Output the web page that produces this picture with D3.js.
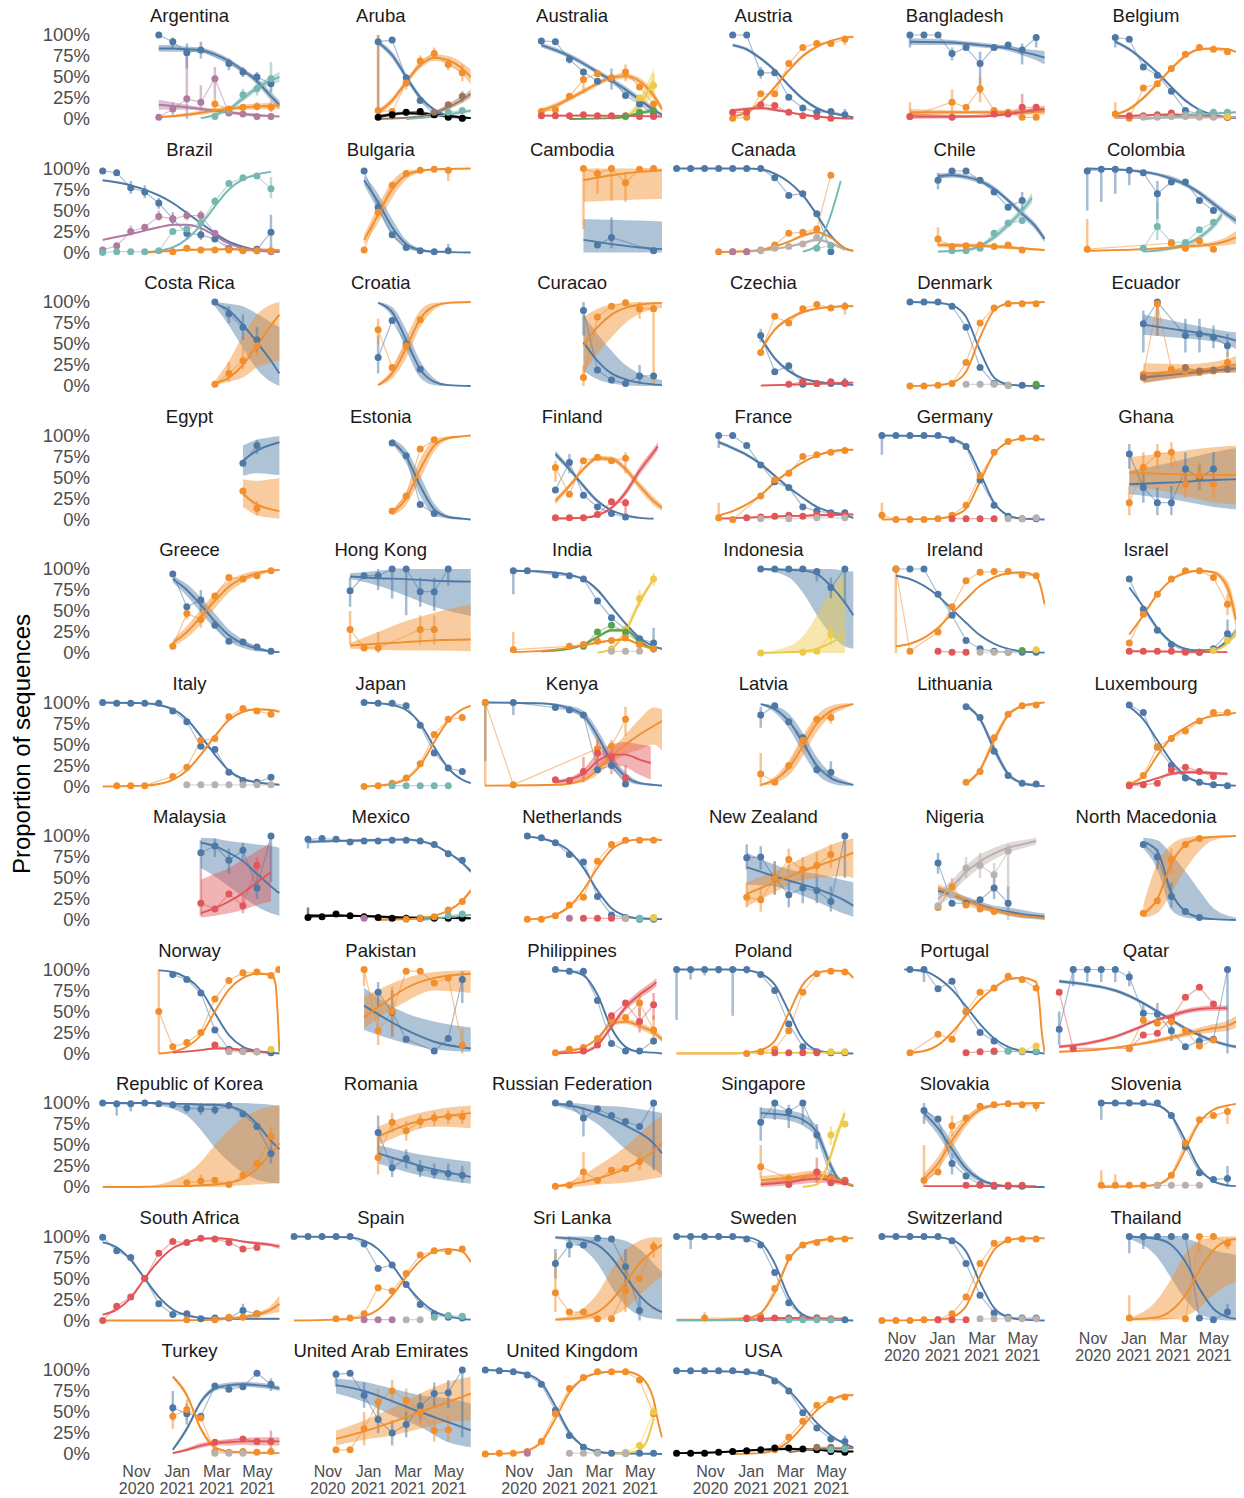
<!DOCTYPE html>
<html><head><meta charset="utf-8">
<script src="https://cdn.jsdelivr.net/npm/d3@7"></script>
<style>body{margin:0;background:#fff} svg{display:block;font-family:"Liberation Sans",Arial,sans-serif}</style>
</head><body><svg id="chart" width="1244" height="1498"></svg>
<script>
// ---------- data ----------
const countries = ["Argentina","Aruba","Australia","Austria","Bangladesh","Belgium",
"Brazil","Bulgaria","Cambodia","Canada","Chile","Colombia",
"Costa Rica","Croatia","Curacao","Czechia","Denmark","Ecuador",
"Egypt","Estonia","Finland","France","Germany","Ghana",
"Greece","Hong Kong","India","Indonesia","Ireland","Israel",
"Italy","Japan","Kenya","Latvia","Lithuania","Luxembourg",
"Malaysia","Mexico","Netherlands","New Zealand","Nigeria","North Macedonia",
"Norway","Pakistan","Philippines","Poland","Portugal","Qatar",
"Republic of Korea","Romania","Russian Federation","Singapore","Slovakia","Slovenia",
"South Africa","Spain","Sri Lanka","Sweden","Switzerland","Thailand",
"Turkey","United Arab Emirates","United Kingdom","USA"];
const variantKeys   = ["O","A","B","G","D","K","P2","E","Br","Gy"];
const variantNames  = ["Other","B.1.1.7","B.1.351","P.1","B.1.617.2","B.1.617.1","P.2","B.1.427/429","B.1.1.318","B.1.525"];
const variantColors = ["#4e79a7","#f28e2b","#e15759","#76b7b2","#edc948","#59a14f","#b07aa1","#000000","#9c755f","#bab0ac"];
// observation bins: 3-week periods starting 2020-09-12 (index k)
const binStart = "2020-09-12", binDays = 21;
const xDomain = ["2020-09-08","2021-06-03"];
const xTickDates = ["2020-11-01","2021-01-01","2021-03-01","2021-05-01"];
const xTickLabels = ["Nov 2020","Jan 2021","Mar 2021","May 2021"];
const yTicks = [0,25,50,75,100];
// series: [variant, points [k, %, lo, hi], fitted [k, %, halfwidth] or [k, %, lo, hi]]
const seriesByCountry = {
"Argentina":[
 ["O",[[4,100],[5,92,85,97],[6,79,60,90],[7,82,72,92],[9,66,58,72],[10,56,50,62],[11,50,44,56],[12,42,32,52]],
      [[4,84,4],[5,84,4],[6,83,3],[7,82,3],[8,77,3],[9,69,3],[10,58,3],[11,45,4],[12,27,5],[12.6,17,5]]],
 ["P2",[[4,2],[5,12,5,20],[6,24,0,82],[7,20,10,40],[8,48,25,62],[9,7],[10,6],[11,3],[12,3]],
      [[4,17,6],[6,14,3],[8,10,2],[10,6,2],[12.6,3,1]]],
 ["G",[[8,3],[9,10],[10,29,22,36],[11,36,28,45],[12,48,30,68]],
      [[7,1,1],[8,5,1],[9,12,2],[10,24,3],[11,37,4],[12,46,5],[12.6,50,6]]],
 ["A",[[8,18,12,25],[9,12],[10,14],[11,15,10,20],[12,14,8,22]],
      [[4,2,1],[6,5,2],[8,10,3],[10,14,3],[12.6,16,4]]]],
"Aruba":[
 ["O",[[6,92,0,100],[7,94],[8,49],[9,22],[10,5],[11,3],[12,1]],
      [[6,91,3],[7,76,4],[8,50,4],[9,26,3],[10,11,2],[11,4,1],[12,1.5,1],[12.6,1,1]]],
 ["A",[[6,10,0,100],[7,9],[8,43,35,52],[9,69,62,76],[10,78,72,85],[11,65,58,72],[12,55,45,65]],
      [[6,8,3],[7,22,4],[8,44,4],[9,64,4],[10,73,4],[11,70,5],[12,60,7],[12.6,50,9]]],
 ["E",[[6,2],[7,5],[8,8,4,12],[9,9,5,13],[10,5],[11,2],[12,1]],[[6,3,2],[8,7,2],[10,5,2],[12.6,1,1]]],
 ["Br",[[10,8],[11,17],[12,27,20,33]],[[6,0,0],[9,3,1],[10,7,2],[11,14,3],[12,23,4],[12.6,30,5]]],
 ["G",[[11,8],[12,10]],[[8,0,0],[10,3,1],[12.6,10,2]]]],
"Australia":[
 ["O",[[4,93],[5,92],[6,71,66,76],[7,56],[8,45],[9,48,35,60],[10,28],[11,18],[12,5]],
      [[4,88,3],[6,75,3],[8,56,3],[10,35,4],[11,23,4],[12,11,3],[12.6,5,2]]],
 ["A",[[4,9],[5,11],[6,27],[7,47,30,60],[8,54],[9,49],[10,56,45,65],[11,38],[12,18]],
      [[4,10,3],[5,16,3],[6,24,3],[7,33,3],[8,42,3],[9,49,3],[10,51,3],[11,45,4],[12,28,5],[12.6,12,4]]],
 ["D",[[11,25],[12,40,25,55]],[[9,0,0],[10,3,2],[11,17,8],[12,45,15]]],
 ["B",[[4,4],[5,4],[6,4],[7,5],[8,4],[9,4],[10,4],[11,3],[12,3]],[[4,4,1],[8,4,1],[12.6,3,1]]],
 ["K",[[10,3],[11,8],[12,10]],[[6,0,0],[9,1,1],[10,3,1],[11,7,2],[12,10,3]]]],
"Austria":[
 ["O",[[4,100],[5,100],[6,55,48,62],[7,55],[8,26],[9,13],[10,8],[11,9],[12,5,0,12]],
      [[4,88,2],[5,83,2],[6,72,2],[7,58,2],[8,40,2],[9,24,2],[10,13,2],[11,7,1],[12,4,1],[12.6,2,1]]],
 ["A",[[4,1],[5,2],[6,30],[7,30],[8,66],[9,85],[10,90],[11,90],[12,95,88,100]],
      [[4,3,1],[5,8,2],[6,20,2],[7,38,2],[8,58,2],[9,75,2],[10,86,2],[11,93,1],[12,97,1],[12.6,98,1]]],
 ["B",[[4,8],[5,8],[6,17],[7,16],[8,8],[9,4],[10,3],[11,1]],
      [[4,10,2],[5,12,2],[6,13,2],[7,11,2],[8,8,1],[9,5,1],[10,3,1],[11,1.5,1],[12.6,0.5,0]]]],
"Bangladesh":[
 ["O",[[3,100,85,100],[4,100],[5,100],[6,78,70,85],[7,85],[8,66,30,80],[9,85],[10,88],[11,82,65,90],[12,97,85,100]],
      [[3,92,4],[6,91,3],[8,88,3],[10,84,3],[11,80,4],[12,76,6],[12.6,73,8]]],
 ["A",[[3,3,0,20],[6,20,5,35],[7,14],[8,36,20,50],[9,10],[10,8],[11,2],[12,2]],[[3,8,4],[8,8,2],[12.6,9,4]]],
 ["B",[[3,3],[6,2],[9,6],[10,6],[11,14,5,30],[12,14]],[[3,3,4],[8,3,1],[10,6,2],[12.6,12,4]]]],
"Belgium":[
 ["O",[[4,97,85,100],[5,95],[6,62],[7,52],[8,33],[9,10],[10,6],[11,3],[12,2]],
      [[4,92,2],[5,83,2],[6,70,2],[7,55,2],[8,38,2],[9,22,2],[10,11,1],[11,5,1],[12,2,1],[12.6,1,1]]],
 ["A",[[4,6,0,20],[5,1],[6,37],[7,42],[8,60],[9,77],[10,85],[11,83],[12,80]],
      [[4,5,1],[5,12,2],[6,25,2],[7,42,2],[8,60,2],[9,75,2],[10,83,1],[11,84,1],[12,83,1],[12.6,80,1]]],
 ["B",[[5,4],[6,4],[7,5],[8,7],[9,5],[10,4],[11,3],[12,2]],[[4,3,1],[8,5,1],[12.6,2,1]]],
 ["G",[[9,5],[10,8],[11,8],[12,8]],[[6,0,0],[9,4,1],[12.6,8,1]]],
 ["Gy",[[6,2],[7,2],[8,3],[9,3],[10,2],[11,2]],[[4,1,0],[12.6,2,0]]],
 ["D",[[12,3]],[]]],
"Brazil":[
 ["O",[[0,97],[1,95],[2,77,70,85],[3,72,65,80],[4,59,52,65],[5,40,32,48],[6,23,15,30],[7,21,15,28],[8,16],[9,5],[10,3],[11,4],[12,24,5,45]],
      [[0,86,1],[2,80,1],[4,68,1],[5,59,1],[6,47,1],[7,35,1],[8,23,1],[9,13,1],[10,7,1],[11,3,1],[12.6,1,1]]],
 ["P2",[[0,3],[1,8],[2,25,20,32],[3,30],[4,43,38,50],[5,40,35,45],[6,44,38,50],[7,44,38,50],[8,23],[9,5],[10,3],[11,2],[12,1]],
      [[0,15,1],[2,22,1],[4,30,1],[5,33,1],[6,33,1],[7,29,1],[8,20,1],[9,11,1],[10,5,1],[11,2,1],[12.6,1,1]]],
 ["G",[[0,0],[1,1],[2,1],[3,1],[4,2],[5,25],[6,28],[7,35,28,42],[8,61,55,66],[9,82,78,86],[10,89],[11,91],[12,76,65,90]],
      [[3,0,0],[4,2,1],[5,6,1],[6,16,1],[7,33,1],[8,55,1],[9,75,1],[10,87,1],[11,93,1],[12,96,1]]],
 ["A",[[5,1],[6,5],[7,3],[8,3],[9,3],[10,2],[11,2],[12,2]],[[3,0,0],[6,3,1],[9,4,1],[12.6,3,1]]]],
"Bulgaria":[
 ["O",[[5,97],[6,54,45,62],[7,21],[8,6],[9,2],[10,1],[11,2,0,10]],
      [[5,86,6],[6,60,10],[7,30,10],[8,10,5],[9,3,2],[10,1,1],[12.6,0,0]]],
 ["A",[[5,3],[6,48],[7,80],[8,94],[9,98],[10,99],[11,98,85,100]],
      [[5,15,6],[6,45,10],[7,75,10],[8,92,5],[9,97,2],[10,99,1],[12.6,100,0]]]],
"Cambodia":[
 ["A",[[7,100,28,100],[8,94,70,100],[9,100,62,100],[10,83,60,95],[11,99],[12,100]],
      [[7,86,60,100],[9,92,62,100],[11,96,63,100],[12.6,98,64,100]]],
 ["O",[[8,9],[9,18,5,42],[12,2]],[[7,15,0,40],[9,10,0,39],[11,6,0,38],[12.6,4,0,37]]]],
"Canada":[
 ["O",[[0,100],[1,100],[2,100],[3,100],[4,100],[5,100],[6,100],[7,89],[8,68],[9,70],[10,46],[11,1]],
      [[0,100,0],[5,100,0],[6,99,1],[7,94,1],[8,84,1],[9,68,1],[10,45,1],[11,20,1],[12,5,1],[12.6,2,0]]],
 ["A",[[3,1],[4,1],[5,1],[6,3],[7,9],[8,23],[9,24],[10,28],[11,92]],
      [[3,0.5,0],[6,3,1],[7,7,1],[8,13,1],[9,20,2],[10,24,2],[11,18,2],[12,5,1],[12.6,2,0]]],
 ["G",[[10,5],[11,8]],[[9,1,0],[10,8,1],[11,45,2],[11.7,85,2]]],
 ["Gy",[[6,2],[7,5],[8,7],[9,10],[10,18]],[[5,1,0],[7,4,1],[8,7,1],[9,11,2],[10,15,2],[11,11,2],[12,3,1]]],
 ["P2",[[4,1],[5,1]],[]]],
"Chile":[
 ["O",[[5,86,75,95],[6,97],[7,97],[8,86],[9,72],[10,54],[11,62,50,72]],
      [[5,91,3],[6,92,3],[7,90,3],[8,85,3],[9,76,3],[10,62,3],[11,46,4],[12,30,4],[12.6,16,4]]],
 ["G",[[6,2],[7,2],[8,5],[9,23],[10,35],[11,38]],
      [[5,1,1],[7,3,1],[8,8,2],[9,18,3],[10,33,4],[11,50,5],[11.7,65,6]]],
 ["A",[[5,16,8,30],[6,7],[7,8],[8,9],[9,7],[10,9],[11,3]],[[5,9,3],[8,8,2],[10,6,2],[12.6,3,1]]]],
"Colombia":[
 ["O",[[2,97,50,100],[3,99,60,100],[4,99,70,100],[5,98,80,100],[6,95],[7,70,40,85],[8,84],[9,84],[10,62],[11,50]],
      [[2,100,1],[4,99,1],[6,96,2],[7,93,2],[8,88,3],[9,81,3],[10,71,3],[11,58,4],[12,45,4],[12.6,38,5]]],
 ["G",[[6,5],[7,31,15,60],[8,12],[9,12],[10,27],[11,36]],[[6,1,1],[8,5,2],[10,18,3],[11,32,4],[11.6,45,5]]],
 ["A",[[2,4,0,40],[8,11],[9,5],[10,14],[11,4]],[[2,2,1],[6,4,1],[9,7,2],[11,10,3],[12,14,5],[12.6,18,8]]]],
"Costa Rica":[
 ["O",[[8,100],[9,86,75,95],[10,70,55,85],[11,55,40,70]],
      [[8,98,95,100],[9,90,72,98],[10,73,45,95],[11,52,20,86],[12,30,5,76],[12.6,15,0,70]]],
 ["A",[[8,2],[9,15,5,28],[10,30,20,45],[11,48,35,60]],
      [[8,3,1,6],[9,10,5,30],[10,25,10,60],[11,48,22,85],[12,72,28,97],[12.6,85,30,100]]]],
"Croatia":[
 ["O",[[6,34,15,60],[7,78],[8,50],[9,20]],[[6,99,1],[7,88,6],[8,55,12],[9,20,10],[10,5,4],[11,1,1],[12.6,0,0]]],
 ["A",[[6,67,50,80],[7,22],[8,48],[9,79]],[[6,1,1],[7,15,6],[8,45,12],[9,80,10],[10,95,4],[11,99,1],[12.6,100,0]]]],
"Curacao":[
 ["O",[[7,90,60,100],[8,19],[9,7],[10,3],[11,12,2,25],[12,12]],
      [[7,52,18,85],[8,30,8,62],[9,15,3,42],[10,8,1,25],[11,4,0,15],[12.6,1,0,7]]],
 ["A",[[7,10,0,25],[8,82],[9,95],[10,99],[11,92,80,100],[12,92,0,100]],
      [[7,48,15,82],[8,70,38,92],[9,85,58,97],[10,93,75,99],[11,97,86,100],[12.6,99,93,100]]]],
"Czechia":[
 ["O",[[6,60,52,68],[7,17],[8,24],[9,2],[10,3],[11,3],[12,4,0,10]],
      [[6,58,3],[7,33,2],[8,18,2],[9,9,1],[10,5,1],[11,3,1],[12,2,1],[12.6,1,0]]],
 ["A",[[6,40],[7,83],[8,75],[9,92],[10,97],[11,93],[12,95,85,100]],
      [[6,42,3],[7,67,2],[8,80,2],[9,88,2],[10,92,1],[11,94,1],[12,95,1],[12.6,95,1]]],
 ["B",[[8,2],[9,5],[10,3],[11,5],[12,3]],[[6,0.5,0],[9,2,1],[12.6,4,1]]]],
"Denmark":[
 ["O",[[3,100],[4,100],[5,100],[6,95],[7,70],[8,22],[9,3],[10,1],[11,1],[12,0]],
      [[3,100,0],[5,99,1],[6,96,1],[7,82,1],[8,42,1],[9,10,1],[10,2,1],[11,0.5,0],[12.6,0,0]]],
 ["A",[[3,0],[4,0],[5,1],[6,3],[7,28],[8,75],[9,93],[10,98],[11,98],[12,98]],
      [[3,0,0],[5,1,0],[6,4,1],[7,17,1],[8,58,1],[9,90,1],[10,98,1],[11,99,0],[12.6,100,0]]],
 ["Gy",[[7,2],[8,2],[9,2],[10,1]],[]],
 ["K",[[12,2]],[]]],
"Ecuador":[
 ["O",[[6,74,40,90],[7,100,60,100],[9,60,40,80],[10,62,40,80],[11,58,45,72],[12,48,35,62]],
      [[6,73,12],[8,68,10],[10,63,8],[12,57,8],[12.6,54,10]]],
 ["A",[[6,14],[7,98,60,100],[8,20],[9,18],[10,16],[11,18],[12,28,20,40]],[[6,15,12],[9,18,8],[12,24,8],[12.6,26,10]]],
 ["Br",[[6,10],[9,22],[10,18],[11,19],[12,20]],[[6,10,6],[9,15,4],[12,20,4],[12.6,21,5]]]],
"Egypt":[
 ["O",[[10,67],[11,88,78,95]],[[10,70,52,88],[11,82,55,95],[12,89,54,98],[12.6,92,53,99]]],
 ["A",[[10,34],[11,13,5,22]],[[10,30,15,48],[11,18,5,46],[12,12,2,48],[12.6,10,1,49]]]],
"Estonia":[
 ["O",[[7,91],[8,76],[9,18],[10,7]],[[7,93,3],[8,75,8],[9,40,12],[10,12,7],[11,3,2],[12,1,1],[12.6,0,0]]],
 ["A",[[7,10],[8,28],[9,84],[10,95]],[[7,8,3],[8,25,8],[9,60,12],[10,88,7],[11,97,2],[12,99,1],[12.6,100,0]]]],
"Finland":[
 ["O",[[5,35],[6,68,55,78],[7,29],[8,15],[9,7],[10,3]],
      [[5,78,4],[6,60,3],[7,40,3],[8,22,2],[9,11,1],[10,5,1],[11,2,1],[12,1,0]]],
 ["A",[[5,62,45,70],[6,30],[7,70],[8,74],[9,70],[10,73,55,80]],
      [[5,22,4],[6,40,3],[7,60,3],[8,73,3],[9,72,3],[10,60,4],[11,40,5],[12,22,5],[12.6,14,4]]],
 ["B",[[5,2],[6,2],[7,2],[8,6],[9,21],[10,20,0,25]],
      [[5,1,0],[7,2,1],[8,5,1],[9,14,2],[10,32,4],[11,58,5],[12,80,5],[12.3,87,5]]]],
"France":[
 ["O",[[3,100,85,100],[4,100],[5,88],[6,65],[7,45],[8,38],[9,15],[10,10],[11,8],[12,8]],
      [[3,92,2],[4,85,2],[5,77,2],[6,66,2],[7,52,2],[8,38,2],[9,26,1],[10,15,1],[11,9,1],[12,5,1],[12.6,2,1]]],
 ["A",[[3,2,0,20],[4,0],[6,28],[7,47],[8,55],[9,75],[10,77],[11,80],[12,82]],
      [[3,5,1],[4,10,1],[5,18,1],[6,29,1],[7,44,1],[8,57,1],[9,68,1],[10,76,1],[11,81,1],[12,83,1],[12.6,83,1]]],
 ["B",[[5,2],[6,3],[7,4],[8,5],[9,4],[10,6],[11,6],[12,5]],[[3,1,0],[8,4,1],[12.6,6,1]]],
 ["Gy",[[6,1],[8,1],[10,2],[12,2]],[]]],
"Germany":[
 ["O",[[1,100,77,100],[2,100],[3,100],[4,100],[5,100],[6,95],[7,87],[8,47],[9,17],[10,4],[11,1],[12,1]],
      [[1,100,0],[5,99,1],[6,96,1],[7,87,1],[8,55,1],[9,20,1],[10,5,1],[11,1,0],[12.6,0,0]]],
 ["A",[[1,5,0,20],[2,0],[3,0],[4,0],[5,1],[6,5],[7,17],[8,52],[9,80],[10,93],[11,97],[12,97]],
      [[1,0,0],[5,1,0],[6,4,1],[7,13,1],[8,45,1],[9,78,1],[10,92,1],[11,96,1],[12,96,1],[12.6,95,1]]],
 ["B",[[6,1],[7,1],[8,1],[9,1]],[]],
 ["Gy",[[10,1],[11,1],[12,2]],[]]],
"Ghana":[
 ["O",[[5,78,60,90],[6,38,20,55],[7,20,5,38],[8,20,5,40],[9,60,40,80],[10,50,35,65],[11,60,40,80]],
      [[5,42,30,58],[8,44,24,68],[11,47,15,80],[12.6,48,12,85]]],
 ["A",[[5,20,5,40],[6,62,45,80],[7,78,60,90],[8,80,62,92],[9,42,25,60],[10,52,35,68],[11,42,25,60]],
      [[5,56,40,74],[8,54,32,80],[11,53,20,86],[12.6,53,18,88]]]],
"Greece":[
 ["O",[[5,94],[6,55],[7,63,50,75],[8,33],[9,14],[10,13],[11,7],[12,2]],
      [[5,88,4],[6,75,7],[7,57,9],[8,38,9],[9,21,7],[10,11,5],[11,5,3],[12,2,1],[12.6,1,1]]],
 ["A",[[5,8],[6,47,40,55],[7,40,30,50],[8,68],[9,90],[10,88],[11,92],[12,98]],
      [[5,12,4],[6,25,7],[7,43,9],[8,62,9],[9,79,7],[10,89,5],[11,95,3],[12,98,1],[12.6,99,1]]]],
"Hong Kong":[
 ["O",[[4,74,55,90],[5,92],[6,92,75,100],[7,100,65,100],[8,100,45,100],[9,73,55,90],[10,73,50,90],[11,100,80,100]],
      [[4,91,88,95],[6,89,80,98],[8,88,68,100],[10,86,55,100],[12.6,85,44,100]]],
 ["A",[[4,28,10,50],[5,6],[6,6,0,25],[9,28,10,45],[10,28,10,45]],
      [[4,9,5,12],[6,11,4,25],[8,13,3,38],[10,15,3,48],[12.6,16,2,58]]]],
"India":[
 ["O",[[2,98,70,100],[3,98],[5,93],[6,92],[7,88],[8,62],[9,42],[10,28],[11,17],[12,12,0,30]],
      [[2,98,1],[4,97,1],[6,93,1],[7,88,1],[8,75,2],[9,55,2],[10,35,2],[11,18,2],[12,8,1],[12.6,5,1]]],
 ["D",[[9,5],[10,28],[11,65,55,75],[12,88,80,95]],[[8,0.5,0],[9,5,1],[10,25,2],[11,60,3],[12,88,3]]],
 ["K",[[7,8],[8,25],[9,33],[10,25],[11,12],[12,5]],
      [[4,2,1],[6,5,1],[7,10,1],[8,19,2],[9,27,2],[10,27,2],[11,14,2],[12,4,1]]],
 ["A",[[2,4,0,25],[6,8],[7,10],[8,14],[9,15],[10,18],[11,10],[12,5]],
      [[2,1,0],[5,4,1],[8,12,1],[9,15,1],[10,16,1],[11,10,1],[12,4,1]]],
 ["Gy",[[9,2],[10,2],[11,2]],[]]],
"Indonesia":[
 ["O",[[6,100],[7,100],[8,100],[9,100],[10,97,85,100],[11,78,65,90],[12,100,60,100]],
      [[6,100,99,100],[8,99,90,100],[9,98,72,100],[10,94,45,100],[11,80,22,100],[12,60,8,98],[12.6,45,5,97]]],
 ["D",[[6,0],[9,1],[10,2],[11,22,10,35]],
      [[6,0,0,1],[8,1,0,8],[9,2,0,20],[10,5,0,45],[11,12,0,75],[12,22,0,95]]]],
"Ireland":[
 ["O",[[2,100],[3,100],[4,100],[5,70],[6,45],[7,15],[8,5],[9,2],[10,1],[11,1],[12,1]],
      [[2,92,1],[3,88,1],[4,80,1],[5,68,1],[6,52,1],[7,36,1],[8,21,1],[9,11,1],[10,5,1],[11,2,0],[12.6,0.5,0]]],
 ["A",[[2,100,0,100],[3,2],[5,25],[6,55],[7,86],[8,96],[9,97],[10,97],[11,93],[12,92]],
      [[2,8,1],[3,11,1],[4,18,1],[5,30,1],[6,47,1],[7,64,1],[8,80,1],[9,90,1],[10,95,1],[11,96,1],[12,91,2],[12.3,80,3],[12.6,58,4]]],
 ["B",[[5,2],[6,1],[7,1]],[]],
 ["Gy",[[8,1],[9,1],[10,1]],[]],
 ["K",[[11,3]],[]],
 ["D",[[12,4]],[]]],
"Israel":[
 ["O",[[5,88],[6,52],[7,27],[8,10],[9,2],[10,1],[11,5],[12,23,15,40]],
      [[5,78,1],[6,55,1],[7,30,1],[8,13,1],[9,5,1],[10,3,1],[11,4,1],[12,15,3],[12.6,25,5]]],
 ["A",[[5,12],[6,46],[7,70],[8,88],[9,98],[10,98],[11,90],[12,58,45,70]],
      [[5,22,1],[6,45,1],[7,70,1],[8,87,1],[9,95,1],[10,98,1],[11,96,2],[12,78,8],[12.6,40,12]]],
 ["D",[[11,3],[12,15]],[[9,0,0],[11,3,1],[12,12,3],[12.6,25,5]]],
 ["B",[[5,2],[6,2],[7,2],[8,2],[9,1],[10,1]],[[5,2,0],[12,1,0]]]],
"Italy":[
 ["O",[[0,100],[1,99],[2,99],[3,99],[4,99],[5,90],[6,77],[7,48],[8,44],[9,17],[10,7],[11,5],[12,11]],
      [[0,100,0],[3,99,1],[4,97,1],[5,92,1],[6,80,1],[7,60,2],[8,38,2],[9,19,1],[10,9,1],[11,5,1],[12,3,1],[12.6,2,1]]],
 ["A",[[1,1],[2,1],[3,1],[5,12],[6,23],[7,55],[8,57],[9,83],[10,93],[11,90],[12,86]],
      [[0,0,0],[3,1,0],[4,3,1],[5,8,1],[6,19,1],[7,38,2],[8,60,2],[9,79,1],[10,89,1],[11,92,1],[12,91,1],[12.6,89,1]]],
 ["Gy",[[6,2],[7,2],[8,2],[9,2],[10,2],[11,2],[12,2]],[]]],
"Japan":[
 ["O",[[5,100],[6,99],[7,99],[8,96],[9,73],[10,40],[11,22],[12,18]],
      [[5,100,0],[6,99,0],[7,97,1],[8,91,1],[9,75,1],[10,47,1],[11,22,1],[12,8,1],[12.6,4,1]]],
 ["A",[[5,0],[6,1],[7,4],[8,10],[9,27],[10,62],[11,80],[12,82]],
      [[5,0,0],[6,1,0],[7,3,1],[8,9,1],[9,25,1],[10,53,1],[11,78,1],[12,92,1],[12.6,96,1]]],
 ["G",[[7,1],[8,1],[9,1],[10,1],[11,1]],[]]],
"Kenya":[
 ["O",[[0,100,30,100],[2,100,85,100],[5,94],[6,91],[7,85],[8,20],[9,25],[10,3]],
      [[0,100,0],[4,99,1],[6,93,3],[7,85,5],[8,60,8],[9,30,8],[10,12,5],[11,4,2],[12,2,1],[12.6,1,1]]],
 ["A",[[0,100,0,100],[2,2],[8,45,30,60],[9,48],[10,80,60,95]],
      [[0,1,0],[5,2,1],[7,8,3],[8,20,6],[9,36,8],[10,50,12],[11,62,18],[12,72,22],[12.6,78,43,92]]],
 ["B",[[5,8],[6,7],[7,18,5,35],[8,40,25,55],[9,35,15,55],[10,10,0,25]],
      [[5,5,2],[7,15,5],[8,30,8],[9,38,12],[10,38,15],[11,32,18],[11.8,28,20]]]],
"Latvia":[
 ["O",[[6,85,70,95],[7,96],[8,77],[9,58],[10,20],[11,17,10,30]],
      [[6,98,1],[7,92,4],[8,78,9],[9,52,12],[10,25,10],[11,10,6],[12,4,3],[12.6,2,1]]],
 ["A",[[6,15,0,40],[7,5],[8,25],[9,55],[10,80],[11,82,75,90]],
      [[6,2,1],[7,8,4],[8,22,9],[9,48,12],[10,75,10],[11,90,6],[12,96,3],[12.6,98,1]]]],
"Lithuania":[
 ["O",[[7,95],[8,82],[9,42],[10,13],[11,4],[12,3]],[[7,97,1],[8,80,3],[9,45,5],[10,15,3],[11,4,1],[12,1,1],[12.6,0.5,0]]],
 ["A",[[7,5],[8,18],[9,58],[10,86],[11,96],[12,97]],[[7,3,1],[8,20,3],[9,55,5],[10,85,3],[11,96,1],[12,99,1],[12.6,100,0]]]],
"Luxembourg":[
 ["O",[[5,97],[6,88],[7,47],[8,25],[9,10],[10,5],[11,2],[12,1]],
      [[5,95,1],[6,80,1],[7,55,1],[8,30,1],[9,13,1],[10,5,1],[11,2,1],[12.6,1,0]]],
 ["A",[[5,2],[6,13],[7,47],[8,57],[9,66],[10,78],[11,88],[12,88]],
      [[5,3,1],[6,12,1],[7,37,1],[8,58,1],[9,70,1],[10,79,1],[11,84,1],[12,86,1],[12.6,88,1]]],
 ["B",[[5,1],[6,2],[7,4],[8,20],[9,23],[10,18],[11,12]],
      [[5,2,1],[6,5,1],[7,10,1],[8,15,2],[9,17,2],[10,17,2],[11,16,2],[12,15,2]]]],
"Malaysia":[
 ["O",[[7,80,60,95],[8,88,75,97],[9,71,55,85],[10,83,70,92],[11,38,25,50],[12,100,45,100]],
      [[7,92,62,98],[8,88,52,97],[9,80,40,94],[10,70,28,92],[11,55,16,90],[12,40,8,88],[12.6,32,5,86]]],
 ["B",[[7,20,5,60],[8,13],[9,31],[10,17,8,30],[11,65,50,75]],
      [[7,8,3,48],[8,14,5,55],[9,22,8,62],[10,32,12,72],[11,45,18,82],[12,57,22,92]]]],
"Mexico":[
 ["O",[[1,96,85,100],[2,97],[3,96],[4,93],[5,94],[6,94],[7,95],[8,95],[9,94],[10,90],[11,79],[12,71]],
      [[1,93,2],[5,95,1],[8,96,1],[9,94,1],[10,89,1],[11,80,1],[12,68,2],[12.6,58,3]]],
 ["E",[[1,3,0,15],[2,4],[3,7],[4,5],[5,4],[6,3],[7,2],[8,2],[9,2],[10,2],[11,2],[12,2]],[[1,5,2],[4,5,1],[8,3,1],[12.6,2,1]]],
 ["A",[[8,1],[9,2],[10,4],[11,12],[12,22]],[[6,0,0],[8,1,0],[9,2,1],[10,5,1],[11,11,1],[12,23,2],[12.6,35,3]]],
 ["G",[[11,5],[12,7]],[[9,0,0],[12.6,6,1]]],
 ["P2",[[5,2]],[]]],
"Netherlands":[
 ["O",[[3,100],[4,98],[5,92],[6,78],[7,69],[8,28],[9,6],[10,3],[11,1],[12,1]],
      [[3,99,0],[4,97,1],[5,92,1],[6,82,1],[7,62,1],[8,35,1],[9,14,1],[10,5,1],[11,2,0],[12.6,1,0]]],
 ["A",[[3,1],[4,1],[5,5],[6,18],[7,27],[8,70],[9,90],[10,95],[11,95],[12,95]],
      [[3,1,0],[4,2,0],[5,6,1],[6,16,1],[7,36,1],[8,62,1],[9,84,1],[10,93,1],[11,96,1],[12,96,1],[12.6,95,1]]],
 ["B",[[7,2],[8,2],[9,2],[10,2]],[]],
 ["P2",[[6,2]],[]],
 ["Gy",[[10,2],[11,2]],[]],
 ["G",[[11,2],[12,2]],[]],
 ["D",[[12,3]],[]]],
"New Zealand":[
 ["O",[[5,74,60,90],[6,75,60,88],[7,50,30,70],[8,30,15,45],[9,38,20,55],[10,35,20,52],[11,22,10,40],[12,100,50,100]],
      [[5,63,42,80],[7,52,40,66],[8,47,35,60],[10,37,22,55],[12,23,7,47],[12.6,17,4,45]]],
 ["A",[[5,27,15,45],[6,24,10,40],[7,50,30,70],[8,72,55,85],[9,60,45,75],[10,65,50,80],[11,78,62,90]],
      [[5,31,16,45],[7,45,33,58],[8,52,42,66],[10,64,50,82],[12,76,52,95],[12.6,80,50,97]]]],
"Nigeria":[
 ["O",[[5,68,55,80],[6,20],[7,20],[8,24],[9,38,25,50],[10,20,5,40]],
      [[5,35,5],[6,30,4],[7,24,4],[8,18,4],[9,13,4],[10,10,5],[11,7,5],[12,5,4],[12.6,4,4]]],
 ["A",[[5,15],[6,40,30,50],[7,18],[8,13],[9,10]],
      [[5,38,5],[6,31,4],[7,24,3],[8,17,3],[9,12,3],[10,8,2],[11,5,2],[12,3,1],[12.6,2,1]]],
 ["Gy",[[5,17],[6,30],[7,62,50,75],[8,65,50,80],[9,54,40,68],[10,82,0,90]],
      [[5,25,8],[6,40,8],[7,57,8],[8,70,8],[9,79,7],[10,86,6],[11,90,5],[12,94,4]]]],
"North Macedonia":[
 ["O",[[6,90],[7,75,60,85],[8,28,15,45],[9,10],[10,3]],
      [[6,93,85,98],[7,82,60,95],[8,33,12,78],[9,10,3,58],[10,3,1,35],[11,1,0,14],[12.6,0,0,3]]],
 ["A",[[6,8],[7,23],[8,72,55,85],[9,90],[10,97]],
      [[6,7,3,18],[7,25,8,68],[8,67,32,90],[9,90,60,98],[10,97,82,100],[11,99,95,100],[12.6,100,99,100]]]],
"Norway":[
 ["O",[[5,94],[6,88],[7,72],[8,28],[9,5],[10,3],[11,2],[12,1]],
      [[4,99,0],[5,97,1],[6,90,1],[7,75,1],[8,48,1],[9,22,1],[10,8,1],[11,3,1],[12,1,0],[12.6,0,0]]],
 ["A",[[4,50,0,100],[5,8],[6,13],[7,25],[8,65],[9,87],[10,96],[11,97],[12,93],[12.55,100]],
      [[4,0,0],[5,2,1],[6,8,1],[7,22,1],[8,50,1],[9,76,1],[10,90,1],[11,95,1],[12,94,2],[12.3,85,4],[12.5,40,8],[12.6,2,2]]],
 ["B",[[8,10],[9,4],[10,3],[11,2]],[[5,1,0],[7,4,1],[8,6,1],[9,6,1],[10,4,1],[11,2,0],[12,1,0]]],
 ["Gy",[[9,2],[10,2],[11,2]],[]],
 ["D",[[12,5]],[]]],
"Pakistan":[
 ["O",[[6,73,55,85],[7,49,20,75],[8,17],[10,3],[11,18],[12,88,60,98]],
      [[5,57,28,78],[8,28,12,48],[10,14,5,38],[12.6,6,2,31]]],
 ["A",[[5,100,80,100],[6,27,10,50],[7,50,20,80],[8,98],[9,98],[10,84],[11,90],[12,10,0,30]],
      [[5,43,30,68],[6,55,42,76],[8,78,62,90],[10,90,75,97],[12.6,95,72,99]]]],
"Philippines":[
 ["O",[[5,100],[6,98],[7,98],[8,63],[9,12],[10,3],[11,3],[12,15]],
      [[5,99,0],[6,98,1],[7,93,1],[8,70,2],[9,30,2],[10,8,1],[11,2,1],[12,1,0],[12.6,0,0]]],
 ["A",[[5,1],[6,5],[7,7],[8,18],[9,40],[10,43],[11,60,45,72],[12,28,10,45]],
      [[5,1,0],[6,3,1],[7,7,1],[8,18,2],[9,35,2],[10,38,3],[11,33,4],[12,25,4],[12.6,17,4]]],
 ["B",[[7,3],[8,10],[9,45],[10,60],[11,38,25,55],[12,58,40,72]],
      [[5,0,0],[7,2,1],[8,10,2],[9,32,3],[10,55,4],[11,70,5],[12,82,5],[12.2,85,5]]]],
"Poland":[
 ["O",[[0,100,40,100],[1,100,88,100],[2,100,93,100],[3,100,95,100],[4,100,45,100],[5,100,95,100],[6,94],[7,75],[8,35],[9,8],[10,2],[11,1],[12,1]],
      [[0,100,0],[4,100,0],[5,99,1],[6,95,1],[7,82,1],[8,50,1],[9,17,1],[10,4,1],[11,1,0],[12.6,0,0]]],
 ["A",[[5,0],[6,2],[7,5],[8,27],[9,73],[10,95],[11,98],[12,97]],
      [[0,0,0],[4,0,0],[5,1,0],[6,4,1],[7,15,1],[8,48,1],[9,82,1],[10,96,1],[11,99,0],[12,98,1],[12.6,90,2]]],
 ["B",[[7,1],[8,1],[9,1],[10,1]],[]],
 ["D",[[11,2],[12,2]],[[0,0.5,0],[12,1,0]]]],
"Portugal":[
 ["O",[[3,100],[4,100,85,100],[5,77],[6,86],[7,50],[8,25],[9,15],[10,3],[11,2],[12,2]],
      [[2.6,100,0],[4,98,1],[5,90,1],[6,76,1],[7,56,1],[8,35,1],[9,18,1],[10,8,1],[11,3,1],[12,1,0],[12.6,0,0]]],
 ["A",[[3,1],[5,23],[6,17],[7,50],[8,73],[9,78],[10,92],[11,88],[12,78]],
      [[3,1,0],[4,3,1],[5,10,1],[6,25,1],[7,45,1],[8,64,1],[9,78,1],[10,88,1],[11,90,1],[12,85,2],[12.2,65,3],[12.4,25,3],[12.6,2,1]]],
 ["G",[[9,2],[10,3],[11,3],[12,3]],[]],
 ["B",[[7,1],[8,2],[9,3]],[]],
 ["D",[[11,3],[12,9]],[]]],
"Qatar":[
 ["O",[[0,29,10,50],[1,100,80,100],[2,100,85,100],[3,100,85,100],[4,100,85,100],[5,91,80,98],[6,48,35,60],[7,47,35,60],[8,27,15,40],[9,8],[10,15,5,25],[11,17],[12,100,0,100]],
      [[0,86,2],[2,82,2],[4,75,2],[6,60,2],[7,50,2],[8,40,2],[9,30,2],[10,22,2],[11,15,2],[12,10,2],[12.6,8,2]]],
 ["B",[[0,73],[1,6],[5,6],[6,22],[7,24],[8,42],[9,67],[10,79],[11,59]],
      [[0,8,2],[2,12,2],[4,20,2],[6,33,2],[7,40,2],[8,45,3],[9,50,3],[10,53,3],[11,54,3],[12,54,3]]],
 ["A",[[5,6],[6,40],[7,36],[8,38],[9,27],[10,9],[11,16]],
      [[0,2,1],[3,5,1],[6,12,2],[8,19,3],[9,23,3],[10,27,4],[11,30,5],[12,33,6],[12.6,38,7]]]],
"Republic of Korea":[
 ["O",[[0,100],[1,99,85,100],[2,99,90,100],[3,100],[4,99],[5,98],[6,94,88,100],[7,93,86,100],[8,92,86,98],[9,97],[10,87],[11,72],[12,40,28,52]],
      [[0,100,100,100],[3,100,99,100],[4,100,97,100],[5,99,93,100],[6,99,85,100],[7,98,68,100],[8,98,47,100],[9,96,30,100],[10,90,17,100],[11,75,9,99],[12,55,5,98],[12.6,45,4,97]]],
 ["A",[[6,5],[7,7,2,15],[8,8],[9,3],[10,14],[11,28],[12,60,48,72]],
      [[0,0,0,0],[2,0,0,1],[4,0.5,0,3],[5,1,0,8],[6,1,0,16],[7,2,0,30],[8,3,0,50],[9,5,1,68],[10,10,2,82],[11,22,3,91],[12,40,4,96],[12.6,52,5,97]]]],
"Romania":[
 ["O",[[6,65,40,85],[7,23,12,35],[8,34,22,45],[9,22,12,32],[10,18,10,28],[11,16,8,28],[12,14,5,25]],
      [[6,40,28,50],[8,30,18,42],[10,21,10,36],[12.6,12,4,30]]],
 ["A",[[6,35,15,60],[7,77,65,88],[8,67,55,78],[9,78,70,86],[10,82,72,90],[11,84,75,92],[12,84,75,92]],
      [[6,60,50,72],[8,74,64,84],[10,82,72,92],[12.6,88,70,97]]]],
"Russian Federation":[
 ["O",[[5,100],[6,99],[7,82,60,95],[8,93],[9,85],[10,78],[11,72],[12,100,20,100]],
      [[5,99,97,100],[6,97,92,100],[8,88,75,97],[10,73,45,95],[12,52,22,90],[12.6,40,15,88]]],
 ["A",[[5,1],[6,2],[7,18,5,42],[8,8],[9,20],[10,22],[11,30,20,42]],
      [[5,1,0,2],[6,3,0,6],[8,10,3,25],[10,22,5,48],[12,43,10,78],[12.6,52,12,85]]]],
"Singapore":[
 ["O",[[6,77,55,95],[7,100,80,100],[8,90,70,98],[9,100,75,100],[10,62,45,75],[11,11,3,20],[12,8]],
      [[6,88,6],[7,87,6],[8,85,6],[9,80,7],[10,65,7],[11,25,6],[11.5,10,4],[12,5,2],[12.6,1,1]]],
 ["A",[[6,24,10,50],[8,10],[10,18],[11,10],[12,7]],[[6,8,5],[8,11,5],[10,14,6],[11,12,4],[12,5,2],[12.6,2,1]]],
 ["B",[[8,3],[10,18,5,35],[11,5],[12,6]],[[6,3,3],[8,6,4],[10,10,5],[11,8,4],[12,4,2]]],
 ["D",[[11,62,50,72],[12,75]],[[9,0,0],[10,3,1],[10.5,15,3],[11,38,5],[11.5,65,6],[12,88,5]]]],
"Slovakia":[
 ["O",[[4,91,75,100],[5,81],[6,28,15,40],[7,13],[8,3],[9,1],[10,1],[11,1]],
      [[4,88,6],[5,70,8],[6,45,9],[7,22,6],[8,9,3],[9,3,1],[10,1,0],[12.6,0,0]]],
 ["A",[[4,8,0,50],[5,18],[6,73,60,85],[7,82],[8,96],[9,98],[10,99],[11,98],[12,97,90,100]],
      [[4,10,6],[5,28,8],[6,55,9],[7,78,6],[8,92,3],[9,97,1],[10,99,0],[12.6,100,0]]],
 ["B",[[7,2],[8,2],[9,2],[10,2],[11,2]],[[4,1,0],[12,1,0]]]],
"Slovenia":[
 ["O",[[3,100,80,100],[4,100],[5,100],[6,100],[7,100],[8,85],[9,48],[10,17],[11,9],[12,10,0,25]],
      [[3,100,0],[6,99,0],[7,97,1],[8,85,2],[9,55,2],[10,22,2],[11,7,1],[12,2,1],[12.6,1,0]]],
 ["A",[[3,2,0,20],[4,2,0,15],[5,2],[6,2],[7,2],[8,14],[9,52],[10,80],[11,85],[12,90,75,95]],
      [[3,0,0],[6,1,0],[7,3,1],[8,14,2],[9,45,2],[10,77,2],[11,92,1],[12,97,1],[12.6,99,0]]],
 ["Gy",[[7,2],[8,2],[9,2],[10,2]],[]]],
"South Africa":[
 ["O",[[0,99],[1,83],[2,75],[3,50],[4,20],[5,7],[6,8],[7,2],[8,3],[9,3],[10,12,5,20],[11,8]],
      [[0,93,1],[1,87,1],[2,72,1],[3,50,1],[4,28,1],[5,13,1],[6,6,1],[7,3,1],[8,2,1],[12.6,2,1]]],
 ["B",[[0,0],[1,17],[2,28],[3,50],[4,80],[5,94],[6,93],[7,98],[8,97],[9,93],[10,85],[11,87]],
      [[0,7,1],[1,13,1],[2,27,1],[3,50,1],[4,71,1],[5,86,1],[6,93,1],[7,97,1],[8,98,1],[9,97,1],[10,94,1],[11,92,2],[12,90,2],[12.6,88,3]]],
 ["A",[[6,1],[8,1],[9,4],[10,4],[11,8]],[[0,0,0],[5,0,0],[7,0.5,0],[9,2,1],[10,4,2],[11,7,3],[12,13,5],[12.6,20,10]]]],
"Spain":[
 ["O",[[0,100],[1,100],[2,100],[3,100],[4,100],[5,91],[6,62],[7,66],[8,43],[9,19],[10,8],[11,4],[12,3]],
      [[0,100,0],[4,99,0],[5,95,1],[6,85,1],[7,66,1],[8,43,1],[9,24,1],[10,11,1],[11,5,1],[12,2,0],[12.6,1,0]]],
 ["A",[[3,2],[4,3],[5,8],[6,39],[7,35],[8,56],[9,78],[10,83],[11,82],[12,85]],
      [[0,0,0],[3,1,0],[4,2,0],[5,5,1],[6,13,1],[7,30,1],[8,52,1],[9,71,1],[10,82,1],[11,85,1],[12,82,1],[12.6,70,2]]],
 ["G",[[10,4],[11,6],[12,5]],[]],
 ["P2",[[5,1],[6,1],[7,1]],[]],
 ["Gy",[[8,1],[9,1]],[]]],
"Sri Lanka":[
 ["O",[[5,68,50,85],[6,90,75,100],[7,90],[8,98],[9,97],[10,64,40,85],[11,12,0,30]],
      [[5,99,97,100],[6,98,94,100],[7,96,85,100],[8,90,68,99],[9,75,40,98],[10,52,18,95],[11,30,6,85],[12,15,2,68],[12.6,10,1,58]]],
 ["A",[[5,33,10,80],[6,10],[7,10],[8,2],[9,2],[10,35,10,60],[11,50],[12,88,75,95]],
      [[5,1,0,3],[6,2,0,6],[7,4,1,15],[8,10,2,32],[9,24,5,60],[10,45,14,84],[11,68,30,95],[12,83,45,99],[12.6,90,52,99]]]],
"Sweden":[
 ["O",[[0,100],[1,100,85,100],[2,100],[3,100],[4,100],[5,97],[6,90],[7,57],[8,21],[9,4],[10,3],[11,1],[12,1]],
      [[0,100,0],[5,99,0],[6,93,1],[7,68,1],[8,28,1],[9,7,1],[10,2,0],[11,1,0],[12.6,0,0]]],
 ["A",[[2,3,0,10],[5,3],[6,5],[7,38],[8,75],[9,90],[10,93],[11,97],[12,97]],
      [[0,1,0],[3,1,0],[5,3,1],[6,9,1],[7,33,1],[8,72,1],[9,90,1],[10,95,1],[11,97,1],[12,98,0],[12.6,98,0]]],
 ["B",[[5,2],[6,2],[7,3],[8,3],[9,3],[10,3],[11,2]],[[5,1,0],[8,3,1],[12,2,1]]],
 ["G",[[8,1],[9,1],[10,1],[11,1]],[[0,0,0],[12,1,0]]]],
"Switzerland":[
 ["O",[[1,100],[2,100],[3,100],[4,100],[5,100],[6,95],[7,68],[8,30],[9,9],[10,4],[11,3],[12,3]],
      [[1,100,0],[5,99,0],[6,96,1],[7,82,1],[8,45,1],[9,15,1],[10,4,1],[11,1,0],[12.6,0,0]]],
 ["A",[[1,0],[2,0],[3,0],[4,1],[5,1],[6,8],[7,28],[8,68],[9,92],[10,96],[11,97],[12,97]],
      [[1,0,0],[5,1,0],[6,4,1],[7,17,1],[8,53,1],[9,84,1],[10,95,1],[11,98,0],[12.6,98,0]]],
 ["B",[[5,1],[6,1],[7,1]],[]],
 ["Gy",[[8,2],[9,2],[10,2],[11,2],[12,2]],[]]],
"Thailand":[
 ["O",[[5,100,80,100],[6,100,85,100],[7,100],[8,100],[9,100],[10,3],[11,1],[12,10,3,20]],
      [[5,100,97,100],[7,97,75,100],[8,90,50,100],[9,70,25,98],[10,38,8,92],[11,14,2,84],[12,4,0,80],[12.6,2,0,78]]],
 ["A",[[5,3,0,30],[9,2],[10,100,80,100],[11,100],[12,92,85,98]],
      [[5,1,0,3],[7,4,0,25],[8,12,2,50],[9,30,5,80],[10,60,15,95],[11,84,30,99],[12,95,42,100],[12.6,97,45,100]]]],
"Turkey":[
 ["O",[[5,55,40,75],[6,48,35,60],[7,45],[8,81],[9,77],[10,80],[11,96],[12,83,75,90]],
      [[5,5,2],[6,30,3],[7,62,3],[8,78,3],[9,82,3],[10,83,3],[11,82,3],[12,80,3],[12.6,78,3]]],
 ["A",[[5,45,30,60],[6,53,40,65],[7,43],[8,3],[9,2],[10,3],[11,2],[12,3]],
      [[5,92,2],[6,70,3],[7,30,3],[8,8,2],[9,3,1],[10,2,1],[11,1,0],[12.6,1,0]]],
 ["B",[[8,14],[10,18],[11,15],[12,15,5,28]],
      [[5,1,1],[6,5,2],[7,10,3],[8,13,3],[9,14,4],[10,15,4],[11,15,5],[12,15,5],[12.6,15,5]]],
 ["Gy",[[8,1],[9,1],[10,1]],[]]],
"United Arab Emirates":[
 ["O",[[3,95,80,100],[4,96],[5,70,55,85],[6,41,25,58],[7,25,10,40],[8,35,20,50],[9,57,40,72],[10,72,55,85],[11,73,55,88],[12,100,20,100]],
      [[3,82,72,90],[5,75,62,86],[7,63,46,78],[9,50,32,70],[11,38,14,66],[12.6,28,8,60]]],
 ["A",[[3,5],[4,5],[5,30,10,50],[6,62,45,78],[7,75,60,88],[8,64,50,78],[9,50,35,65],[10,28,15,42],[11,29,15,45]],
      [[3,18,10,28],[5,27,17,40],[7,38,22,55],[9,50,30,72],[11,62,38,86],[12.6,72,40,92]]]],
"United Kingdom":[
 ["O",[[0,100],[1,99],[2,98],[3,94],[4,83],[5,52],[6,22],[7,8],[8,2],[9,1],[10,1],[11,1],[12,1]],
      [[0,100,0],[2,98,1],[3,95,1],[4,85,1],[5,57,1],[6,26,1],[7,9,1],[8,3,0],[9,1,0],[12.6,0,0]]],
 ["A",[[0,0],[1,1],[2,1],[3,3],[4,15],[5,48],[6,78],[7,91],[8,98],[9,98],[10,98],[11,88],[12,48]],
      [[0,0,0],[2,1,0],[3,4,1],[4,14,1],[5,42,1],[6,73,1],[7,90,1],[8,96,1],[9,98,1],[10,98,1],[11,93,1],[12,65,2],[12.3,40,3],[12.6,20,3]]],
 ["D",[[10,2],[11,10],[12,50,40,60]],[[9,0,0],[10,1,0],[11,5,1],[11.5,15,3],[12,42,5]]],
 ["P2",[[3,1]],[]],
 ["Gy",[[6,1],[7,1],[8,1],[10,1]],[]]],
"USA":[
 ["O",[[0,99],[1,99],[2,99],[3,99],[4,99],[5,98],[6,97],[7,87],[8,75],[9,49],[10,31],[11,18],[12,15,8,22]],
      [[0,99,0],[4,98,0],[5,97,1],[6,95,1],[7,89,1],[8,76,1],[9,57,1],[10,37,1],[11,22,1],[12,12,1],[12.6,8,1]]],
 ["A",[[7,5],[8,20],[9,39],[10,58],[11,65],[12,68]],
      [[4,0,0],[6,1,0],[7,5,1],[8,15,1],[9,33,1],[10,52,1],[11,64,1],[12,70,1],[12.6,70,1]]],
 ["E",[[0,1],[1,1],[2,1],[3,2],[4,3],[5,4],[6,5],[7,7],[8,7],[9,6],[10,5],[11,3],[12,2]],
      [[0,1,0],[3,2,0],[6,5,1],[8,6,1],[10,5,1],[12,3,1],[12.6,3,1]]],
 ["Br",[[10,8],[11,8],[12,7]],[[8,2,0],[10,6,1],[12.6,7,1]]],
 ["G",[[11,5],[12,6]],[]]]
};

// ---------- drawing ----------
const svg = d3.select("#chart");
const PW = 179, PH = 84;
const colLeft = c => 100 + c * 191.3;
const rowTop = r => 35 + r * 133.5;
const parse = d3.timeParse("%Y-%m-%d");
const x = d3.scaleTime().domain(xDomain.map(parse)).range([0, PW]);
const y = d3.scaleLinear().domain([0, 100]).range([PH, 0]);
const color = d3.scaleOrdinal().domain(variantKeys).range(variantColors);
const bin0 = parse(binStart).getTime();
const kDate = k => new Date(bin0 + k * binDays * 86400000);
const clampP = v => Math.max(0, Math.min(100, v));
const normFit = n => n.length === 4 ? {k:n[0], p:n[1], lo:n[2], hi:n[3]}
                 : n.length === 3 ? {k:n[0], p:n[1], lo:clampP(n[1]-n[2]), hi:clampP(n[1]+n[2])}
                 : {k:n[0], p:n[1], lo:n[1], hi:n[1]};
const fitLine = d3.line().x(d => x(kDate(d.k))).y(d => y(d.p)).curve(d3.curveMonotoneX);
const fitArea = d3.area().x(d => x(kDate(d.k))).y0(d => y(d.lo)).y1(d => y(d.hi)).curve(d3.curveMonotoneX);
const obsLine = d3.line().x(d => x(kDate(d[0]))).y(d => y(d[1]));
const n = countries.length;

countries.forEach((name, i) => {
  const r = Math.floor(i / 6), c = i % 6;
  const g = svg.append("g").attr("transform", `translate(${colLeft(c)},${rowTop(r)})`);
  g.append("text").attr("x", PW / 2).attr("y", -13).attr("text-anchor", "middle")
    .attr("font-size", 18.5).attr("fill", "#1a1a1a").text(name);
  const clipId = "clip" + i;
  g.append("clipPath").attr("id", clipId).append("rect")
    .attr("x", -1).attr("y", -8).attr("width", PW + 2).attr("height", PH + 16);
  const body = g.append("g").attr("clip-path", `url(#${clipId})`);
  const ser = (seriesByCountry[name] || []).map(s => ({v:s[0], pts:s[1], fit:s[2].map(normFit)}));

  const gRib = body.append("g"), gErr = body.append("g"), gObs = body.append("g"),
        gFit = body.append("g"), gPts = body.append("g");
  ser.forEach(s => {
    const col = color(s.v);
    if (s.fit.length > 1) {
      gRib.append("path").attr("d", fitArea(s.fit)).attr("fill", col).attr("fill-opacity", 0.45);
      gFit.append("path").attr("d", fitLine(s.fit)).attr("fill", "none").attr("stroke", col).attr("stroke-width", 1.9);
    }
    s.pts.filter(p => p.length === 4).forEach(p => {
      gErr.append("line").attr("x1", x(kDate(p[0]))).attr("x2", x(kDate(p[0])))
        .attr("y1", y(p[2])).attr("y2", y(p[3])).attr("stroke", col).attr("stroke-width", 2.5).attr("stroke-opacity", 0.5);
    });
    if (s.pts.length > 1)
      gObs.append("path").attr("d", obsLine(s.pts)).attr("fill", "none").attr("stroke", col)
        .attr("stroke-width", 1.2).attr("stroke-opacity", 0.5);
    gPts.selectAll(null).data(s.pts).join("circle")
      .attr("cx", d => x(kDate(d[0]))).attr("cy", d => y(d[1])).attr("r", 3.5).attr("fill", col);
  });

  if (c === 0) {
    const ay = g.append("g").call(d3.axisLeft(y).tickValues(yTicks).tickFormat(d => d + "%").tickSize(0).tickPadding(10));
    ay.select(".domain").remove();
    ay.attr("font-size", 18.5).attr("font-family", null).attr("color", "#4d4d4d");
  }
  if (i + 6 >= n) {
    const ax = g.append("g").attr("transform", `translate(0,${PH})`)
      .call(d3.axisBottom(x).tickValues(xTickDates.map(parse)).tickSize(0).tickFormat((d, j) => xTickLabels[j]));
    ax.select(".domain").remove();
    ax.attr("font-size", 16).attr("font-family", null).attr("color", "#4d4d4d");
    ax.selectAll(".tick text").each(function(d, j) {
      const parts = xTickLabels[j].split(" ");
      const t = d3.select(this).text(null).attr("y", null).attr("dy", null);
      t.append("tspan").attr("x", 0).attr("y", 23).text(parts[0]);
      t.append("tspan").attr("x", 0).attr("y", 40).text(parts[1]);
    });
  }
});

svg.append("text").attr("transform", "translate(30,744) rotate(-90)").attr("text-anchor", "middle")
  .attr("font-size", 24).attr("fill", "#000").text("Proportion of sequences");
</script></body></html>
